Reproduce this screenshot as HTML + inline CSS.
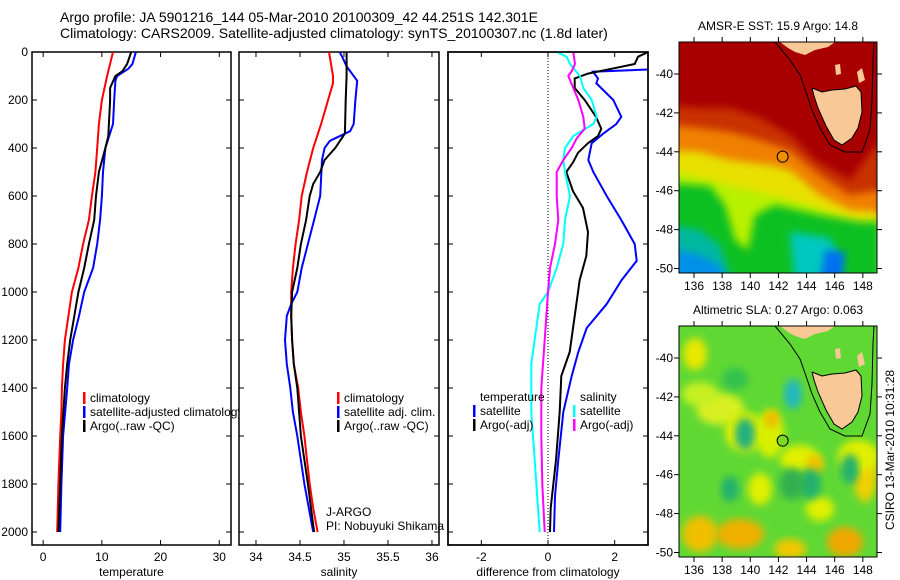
<!DOCTYPE html>
<html><head><meta charset="utf-8"><style>
body{margin:0;background:#fff;}
svg{display:block;font-family:"Liberation Sans",sans-serif;}
text{fill:#000;}
</style></head><body>
<svg id="fig" width="900" height="580" viewBox="0 0 900 580">
<defs>
<clipPath id="c1"><rect x="32" y="52" width="199" height="493"/></clipPath>
<clipPath id="c2"><rect x="239" y="52" width="200" height="493"/></clipPath>
<clipPath id="c3"><rect x="448" y="52" width="200" height="493"/></clipPath>
<clipPath id="m1"><rect x="679" y="42" width="198" height="231"/></clipPath>
<clipPath id="m2"><rect x="679" y="326" width="198" height="231"/></clipPath>
<filter id="bl" x="-20%" y="-20%" width="140%" height="140%"><feGaussianBlur stdDeviation="4"/></filter>
</defs>
<text x="60" y="22" font-size="14">Argo profile: JA 5901216_144 05-Mar-2010 20100309_42 44.251S 142.301E</text>
<text x="60" y="38" font-size="14">Climatology: CARS2009. Satellite-adjusted climatology: synTS_20100307.nc (1.8d later)</text>
<g id="g1"></g>
<g id="g2"></g>
<g id="g3"></g>
<g id="maps"></g>
</svg>
<script>
const NS="http://www.w3.org/2000/svg";
function mk(parent,tag,attrs,txt){const e=document.createElementNS(NS,tag);for(const k in attrs)e.setAttribute(k,attrs[k]);if(txt!==undefined)e.textContent=txt;parent.appendChild(e);return e;}

// ---- data: temperature panel ----
const tClimDepth=[0,100,200,300,400,500,600,700,800,900,1000,1100,1200,1300,1400,1500,1600,1800,2000];
const tClimVal=[11.9,10.9,10.0,9.5,9.2,8.9,8.3,7.8,6.8,6.0,4.9,4.3,3.7,3.4,3.2,3.1,2.9,2.6,2.4];
const tArgoDepth=[0,50,80,100,150,200,350,400,500,600,700,800,900,1000,1100,1200,1300,1400,1600,1800,2000];
const tArgoVal=[15.0,14.3,13.5,12.3,11.4,11.4,11.1,10.6,9.5,9.0,8.7,7.8,7.0,6.0,5.3,4.6,4.1,3.7,3.2,2.9,2.6];
const tSatDepth=[0,50,70,100,120,200,300,400,500,600,700,800,900,1000,1100,1200,1300,1400,1600,1800,2000];
const tSatVal=[15.8,15.2,14.5,12.6,12.3,12.1,11.9,10.6,10.2,10.0,9.7,9.2,8.5,7.0,6.1,5.1,4.4,4.1,3.4,3.1,2.9];
const tTicks=[0,10,20,30];
// ---- data: salinity panel ----
const sClimDepth=[0,100,130,200,300,400,500,600,700,800,900,1000,1100,1200,1300,1400,1500,1600,1700,1800,1900,2000];
const sClimVal=[34.83,34.875,34.875,34.82,34.74,34.65,34.58,34.52,34.49,34.45,34.42,34.40,34.40,34.41,34.43,34.48,34.51,34.55,34.58,34.61,34.65,34.70];
const sArgoDepth=[0,100,200,340,400,450,500,550,600,700,800,900,1000,1100,1200,1300,1400,1600,1800,2000];
const sArgoVal=[35.03,35.03,35.02,35.01,34.90,34.78,34.73,34.65,34.61,34.57,34.51,34.47,34.41,34.40,34.41,34.43,34.47,34.51,34.59,34.66];
const sSatDepth=[0,20,60,120,200,300,330,370,400,450,600,700,800,900,1000,1050,1100,1200,1300,1400,1500,1600,1800,2000];
const sSatVal=[34.95,34.98,35.03,35.15,35.13,35.11,35.07,34.84,34.78,34.75,34.73,34.66,34.59,34.52,34.47,34.40,34.35,34.33,34.35,34.39,34.42,34.47,34.55,34.65];
const sTicks=[34,34.5,35,35.5,36];
// ---- data: difference panel ----
const dTSatDepth=[0,70,82,110,130,200,270,300,340,380,450,500,600,700,800,870,950,1050,1150,1250,1350,1500,1700,1850,2000];
const dTSatVal=[3.9,3.5,1.35,1.5,1.45,1.96,2.2,2.05,1.66,1.31,1.21,1.36,1.76,2.2,2.6,2.66,2.21,1.76,1.16,0.91,0.71,0.46,0.31,0.21,0.18];
const dTArgoDepth=[0,20,50,70,90,110,150,200,270,320,350,380,420,460,500,580,650,750,850,950,1100,1250,1350,1500,1700,1900,2000];
const dTArgoVal=[3.0,2.7,2.6,1.9,1.2,0.8,0.8,1.1,1.44,1.6,1.5,1.2,0.9,0.75,0.55,0.75,1.05,1.2,1.15,0.95,0.8,0.65,0.4,0.35,0.24,0.08,0.06];
const dSSatDepth=[0,20,50,100,150,200,270,300,350,400,450,500,600,700,800,900,1000,1050,1150,1300,1500,1700,1900,2000];
const dSSatVal=[0.26,0.56,0.66,0.96,1.06,1.31,1.46,1.36,0.76,0.51,0.46,0.51,0.66,0.51,0.46,0.26,0.0,-0.25,-0.35,-0.5,-0.5,-0.4,-0.3,-0.25];
const dSArgoDepth=[0,50,80,100,150,200,270,320,360,400,450,500,600,700,800,900,1000,1200,1400,1600,1800,2000];
const dSArgoVal=[0.76,0.81,0.71,0.61,0.76,0.91,1.06,1.1,0.86,0.71,0.46,0.26,0.26,0.31,0.21,0.06,0.0,-0.1,-0.2,-0.2,-0.17,-0.1];
const dTicks=[-2,0,2];
const depthTicks=[0,200,400,600,800,1000,1200,1400,1600,1800,2000];

const Y0=52,Y1=545;
const yD=d=>52+0.24*d;
function panel(g,x0,x1,vmin,vmax,ticks,xlabel,clip,name){
  const sx=v=>x0+(v-vmin)/(vmax-vmin)*(x1-x0);
  const ax=mk(g,'rect',{x:x0,y:Y0,width:x1-x0,height:Y1-Y0,fill:'#fff',stroke:'#000','stroke-width':1.5});
  
  
  ticks.forEach(t=>{const x=sx(t);
    mk(g,'line',{x1:x,y1:Y1,x2:x,y2:Y1-5,stroke:'#000'});
    mk(g,'line',{x1:x,y1:Y0,x2:x,y2:Y0+5,stroke:'#000'});
    const tl=mk(g,'text',{x:x,y:561,'font-size':12,'text-anchor':'middle'},String(t));
    
    
  });
  depthTicks.forEach(d=>{const y=yD(d);
    mk(g,'line',{x1:x0,y1:y,x2:x0+5,y2:y,stroke:'#000'});
    mk(g,'line',{x1:x1,y1:y,x2:x1-5,y2:y,stroke:'#000'});
  });
  const xl=mk(g,'text',{x:(x0+x1)/2,y:576,'font-size':12,'text-anchor':'middle'},xlabel);
  
  
  return sx;
}
function line(g,sx,ds,vs,color,clip,name){
  const pts=ds.map((d,i)=>sx(vs[i]).toFixed(1)+','+yD(d).toFixed(1));
  const p=mk(g,'polyline',{points:pts.join(' '),fill:'none',stroke:color,'stroke-width':2,'clip-path':'url(#'+clip+')'});
  
  
}
function legend(g,x,y,items){
  items.forEach((it,i)=>{
    if(it[0]) mk(g,'rect',{x:x,y:y+i*14-10,width:2.5,height:12,fill:it[0]});
    const t=mk(g,'text',{x:x+7,y:y+i*14,'font-size':12},it[1]);
    
    
  });
}
const g1=document.getElementById('g1'),g2=document.getElementById('g2'),g3=document.getElementById('g3');
depthTicks.forEach(d=>{const t=mk(g1,'text',{x:28,y:yD(d)+4,'font-size':12,'text-anchor':'end'},String(d));
  
  });
const sx1=panel(g1,32,231,-1.9,32,tTicks,'temperature','c1','temperature');
line(g1,sx1,tClimDepth,tClimVal,'#f00','c1','temp-climatology-line');
line(g1,sx1,tSatDepth,tSatVal,'#00f','c1','temp-satellite-line');
line(g1,sx1,tArgoDepth,tArgoVal,'#000','c1','temp-argo-line');
const sx2=panel(g2,239,439,33.807,36.08,sTicks,'salinity','c2','salinity');
line(g2,sx2,sClimDepth,sClimVal,'#f00','c2','sal-climatology-line');
line(g2,sx2,sSatDepth,sSatVal,'#00f','c2','sal-satellite-line');
line(g2,sx2,sArgoDepth,sArgoVal,'#000','c2','sal-argo-line');
legend(g1,83,402,[['#f00','climatology'],['#00f','satellite-adjusted climatology'],['#000','Argo(..raw -QC)']]);
legend(g2,337,402,[['#f00','climatology'],['#00f','satellite adj. clim.'],['#000','Argo(..raw -QC)']]);
mk(g2,'text',{x:326,y:516,'font-size':12},'J-ARGO');
mk(g2,'text',{x:326,y:530,'font-size':12},'PI: Nobuyuki Shikama');
const sx3=panel(g3,448,648,-3.0,3.0,dTicks,'difference from climatology','c3','difference');
mk(g3,'line',{x1:sx3(0),y1:Y0,x2:sx3(0),y2:Y1,stroke:'#000','stroke-dasharray':'1,2'});
line(g3,sx3,dTSatDepth,dTSatVal,'#00f','c3','diff-temp-satellite-line');
line(g3,sx3,dTArgoDepth,dTArgoVal,'#000','c3','diff-temp-argo-line');
line(g3,sx3,dSSatDepth,dSSatVal,'#0ff','c3','diff-sal-satellite-line');
line(g3,sx3,dSArgoDepth,dSArgoVal,'#f0f','c3','diff-sal-argo-line');
legend(g3,473,401,[[null,'temperature'],['#00f','satellite'],['#000','Argo(-adj)']]);
legend(g3,573,401,[[null,'salinity'],['#0ff','satellite'],['#f0f','Argo(-adj)']]);
mk(g3,'rect',{x:448,y:52,width:200,height:493,fill:'none',stroke:'#000','stroke-width':1.5});

// ---- maps ----
const M=document.getElementById('maps');
const lonTicks=[136,138,140,142,144,146,148];
const latTicks=[-40,-42,-44,-46,-48,-50];
function mapFrame(top,latY40,title,isSst){
  const g=mk(M,'g',{});
  
  
  const lx=l=>694+(l-136)*14.07, ly=l=>latY40+(-40-l)*19.45;
  const body=mk(g,'g',{'clip-path':'url(#'+(isSst?'m1':'m2')+')'});
  const dy=top-42;
  const poly=(pts,fill,f)=>mk(body,'polygon',{points:pts.map((p,i)=>i%2?p+dy:p).join(' '),fill:fill,filter:f?'url(#bl)':''});
  if(isSst){
    mk(body,'rect',{x:679,y:top,width:198,height:231,fill:'#a80000'});
    poly([670,105,700,108,730,108,760,118,790,135,815,160,850,180,880,140,880,285,670,285],'#c83200',1);
    poly([670,125,700,128,730,132,760,140,790,150,820,175,850,195,880,190,880,285,670,285],'#f08000',1);
    poly([670,150,700,152,730,160,770,165,790,170,820,195,850,210,880,212,880,285,670,285],'#e8e000',1);
    poly([670,170,700,178,730,185,770,195,810,205,850,220,880,222,880,285,670,285],'#b8f000',1);
    poly([670,183,710,186,725,205,735,240,748,250,755,215,775,205,820,215,860,222,880,222,880,285,670,285],'#10c020',1);
    poly([670,225,700,230,720,245,730,275,670,285],'#00b8a0',1);
    poly([790,232,830,238,840,260,820,285,795,285],'#00c8c0',1);
    poly([670,248,700,255,720,265,730,285,670,285],'#0090e8',1);
    poly([825,250,845,252,842,285,820,285],'#0070f0',1);
  } else {
    mk(body,'rect',{x:679,y:top,width:198,height:231,fill:'#60d834'});
    const el=(cx,cy,rx,ry,c)=>mk(body,'ellipse',{cx:cx,cy:cy+dy,rx:rx,ry:ry,fill:c,filter:'url(#bl)'});
    el(720,125,24,16,'#d8f020');el(745,148,20,20,'#e0f000');el(770,150,14,24,'#d8f000');
    el(695,70,12,16,'#e8e800');el(772,135,7,9,'#f0b800');el(700,110,18,12,'#c8f020');
    el(800,175,20,14,'#e0f000');el(815,180,9,9,'#f0c000');
    el(865,190,12,28,'#f0d000');el(858,172,20,16,'#e0f000');
    el(700,250,18,18,'#f0c000');el(740,250,24,15,'#f0b000');el(790,265,16,10,'#f0c800');
    el(845,258,18,15,'#f0a800');el(760,205,12,16,'#e0f000');el(820,225,14,12,'#e0f000');
    el(793,110,9,15,'#20b8c0');el(745,150,10,16,'#20b080');el(730,205,9,13,'#20b070');el(810,200,11,15,'#20b070');
    el(850,185,9,15,'#20b070');el(735,95,13,11,'#30c050');el(792,200,13,16,'#30b050');
  }
  poly([780,42,788,48,795,52,805,55,815,50,828,47,835,42],'#f8c896');
  poly([812,88,822,92,832,90,845,89,856,86,861,92,862,112,858,128,852,138,842,145,834,140,826,126,818,108,814,96],'#f8c896');
  poly([835,65,840,64,841,74,836,75],'#f8c896');
  poly([857,72,862,68,865,80,859,83],'#f8c896');
  mk(body,'polyline',{points:[775,42,790,60,800,75,806,92,812,110,820,128,830,145,845,152,862,152,870,130,872,100,873,60,874,42].map((p,i)=>i%2?p+dy:p).join(' '),fill:'none',stroke:'#000','stroke-width':1});
  mk(body,'polyline',{points:[812,88,822,92,832,90,845,89,856,86,861,92,862,112,858,128,852,138,842,145,834,140,826,126,818,108,814,96,812,88].map((p,i)=>i%2?p+dy:p).join(' '),fill:'none',stroke:'#000','stroke-width':1});
  const pt=mk(g,'circle',{cx:lx(142.3),cy:ly(-44.25),r:5.5,fill:isSst?'#f09000':'#80d820',stroke:'#000','stroke-width':1});
  
  
  mk(g,'rect',{x:679,y:top,width:198,height:231,fill:'none',stroke:'#000','stroke-width':1});
  lonTicks.forEach(l=>{const x=lx(l);
    mk(g,'line',{x1:x,y1:top+231,x2:x,y2:top+236,stroke:'#000'});
    mk(g,'line',{x1:x,y1:top,x2:x,y2:top-5,stroke:'#000'});
    const t=mk(g,'text',{x:x,y:top+248,'font-size':12,'text-anchor':'middle'},String(l));
    
    });
  latTicks.forEach(l=>{const y=ly(l);
    mk(g,'line',{x1:679,y1:y,x2:674,y2:y,stroke:'#000'});
    mk(g,'line',{x1:877,y1:y,x2:882,y2:y,stroke:'#000'});
    const t=mk(g,'text',{x:673,y:y+4,'font-size':12,'text-anchor':'end'},String(l));
    
    });
  const tt=mk(g,'text',{x:778,y:top-12,'font-size':12,'text-anchor':'middle'},title);
  
  
}
mapFrame(42,74,'AMSR-E SST: 15.9 Argo: 14.8',true);
mapFrame(326,358,'Altimetric SLA: 0.27 Argo: 0.063',false);
const cs=mk(M,'text',{x:0,y:0,'font-size':12,'text-anchor':'middle',transform:'translate(894,450) rotate(-90)'},'CSIRO 13-Mar-2010 10:31:28');


</script>
</body></html>
